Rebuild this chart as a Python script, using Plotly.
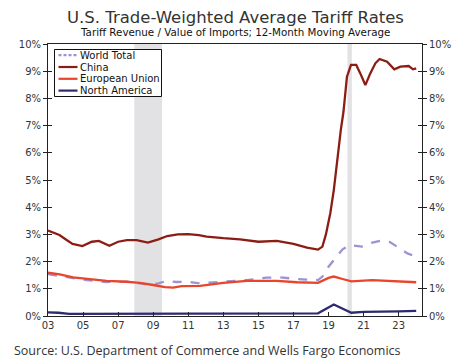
import plotly.graph_objects as go

# ---- data ----
china_x = [2003.0, 2003.65, 2004.0, 2004.4, 2004.96, 2005.5, 2005.9, 2006.24, 2006.5, 2007.0,
           2007.5, 2008.05, 2008.7, 2009.3, 2009.8, 2010.4, 2011.0, 2011.6, 2012.05, 2013.0,
           2013.95, 2015.0, 2016.05, 2017.0, 2017.77, 2018.4, 2018.65, 2018.85, 2019.1, 2019.3,
           2019.5, 2019.7, 2019.85, 2020.05, 2020.28, 2020.58, 2020.81, 2021.1, 2021.38, 2021.67,
           2021.91, 2022.34, 2022.75, 2023.1, 2023.57, 2023.82, 2024.0]
china_y = [3.14, 2.98, 2.82, 2.65, 2.57, 2.73, 2.76, 2.67, 2.58, 2.73,
           2.79, 2.79, 2.70, 2.82, 2.94, 3.00, 3.01, 2.97, 2.92, 2.86,
           2.82, 2.73, 2.76, 2.65, 2.51, 2.44, 2.55, 3.00, 3.78, 4.63,
           5.86, 6.84, 7.50, 8.80, 9.23, 9.23, 8.92, 8.49, 8.92, 9.29,
           9.45, 9.35, 9.07, 9.17, 9.19, 9.07, 9.10]

eu_x = [2003.0, 2003.67, 2004.43, 2005.2, 2006.34, 2007.48, 2008.24, 2009.0, 2009.67, 2010.14,
        2010.62, 2011.67, 2013.0, 2014.34, 2016.05, 2017.2, 2018.4, 2019.0, 2019.3, 2019.8,
        2020.3, 2021.48, 2022.85, 2024.0]
eu_y = [1.59, 1.53, 1.42, 1.36, 1.29, 1.26, 1.22, 1.14, 1.06, 1.04,
        1.10, 1.11, 1.22, 1.29, 1.29, 1.24, 1.22, 1.40, 1.45, 1.36,
        1.27, 1.32, 1.28, 1.24]

wt_x = [2003.0, 2004.43, 2005.2, 2006.34, 2007.48, 2008.24, 2008.81, 2009.29, 2009.77, 2010.34,
        2011.0, 2011.67, 2013.0, 2014.34, 2015.48, 2016.24, 2017.2, 2018.4, 2018.65, 2019.0,
        2019.38, 2019.8, 2020.24, 2020.9, 2021.5, 2021.95, 2022.5, 2023.0, 2023.5, 2024.0]
wt_y = [1.54, 1.39, 1.32, 1.25, 1.26, 1.20, 1.14, 1.20, 1.29, 1.25,
        1.26, 1.20, 1.26, 1.32, 1.41, 1.42, 1.36, 1.32, 1.45, 1.81,
        2.12, 2.45, 2.61, 2.55, 2.70, 2.76, 2.72, 2.50, 2.30, 2.18]

na_x = [2003.0, 2003.6, 2004.2, 2006.0, 2010.0, 2015.0, 2015.5, 2018.4, 2019.3, 2020.3,
        2021.0, 2022.0, 2023.0, 2024.0]
na_y = [0.13, 0.12, 0.08, 0.08, 0.08, 0.08, 0.10, 0.10, 0.42, 0.12,
        0.15, 0.15, 0.17, 0.19]

series_names = ["World Total", "China", "European Union", "North America"]
recessions = [(2007.92, 2009.5), (2020.08, 2020.33)]
tick_vals = [2003, 2005, 2007, 2009, 2011, 2013, 2015, 2017, 2019, 2021, 2023]
tick_text = ["03", "05", "07", "09", "11", "13", "15", "17", "19", "21", "23"]
y_vals = list(range(0, 11))
y_text = [f"{v}%" for v in y_vals]

FONT = "DejaVu Sans"
TXT = "#333333"
AX = "#222222"
W, H = 466, 363
ML, MR, MT, MB = 48, 44, 44, 47
PW, PH = W - ML - MR, H - MT - MB

colors = ["#9D92D2", "#8C1D14", "#E8452B", "#2E2A6E"]
dashes = ["dash", "solid", "solid", "solid"]
xs = [wt_x, china_x, eu_x, na_x]
ys = [wt_y, china_y, eu_y, na_y]

fig = go.Figure()
for name, x, y, c, d in zip(series_names, xs, ys, colors, dashes):
    fig.add_trace(go.Scatter(x=x, y=y, name=name, mode="lines", showlegend=False,
                             line=dict(color=c, width=2.3, dash=d)))
# axis carriers (invisible)
for ya in ["y2", "y3", "y4"]:
    fig.add_trace(go.Scatter(x=[None], y=[None], yaxis=ya, showlegend=False, hoverinfo="skip"))

for a, b in recessions:
    fig.add_shape(type="rect", xref="x", yref="y", x0=a, x1=b, y0=0, y1=10,
                  fillcolor="#E2E2E5", line=dict(width=0), layer="below")

def px(xp):
    return (xp - ML) / PW

def py(yp):
    return (H - MB - yp) / PH

# custom compact legend
fig.add_shape(type="rect", xref="paper", yref="paper", x0=px(54.5), x1=px(161.5),
              y0=py(96.5), y1=py(49.5), fillcolor="white", line=dict(color="#111111", width=1),
              layer="above")
row_y = [55.2, 67.0, 78.8, 90.6]
for name, c, d, ry in zip(series_names, colors, dashes, row_y):
    fig.add_shape(type="line", xref="paper", yref="paper", x0=px(58.5), x1=px(77.5),
                  y0=py(ry), y1=py(ry), line=dict(color=c, width=2.2,
                                                  dash=("3px,2px" if d == "dash" else "solid")),
                  layer="above")
    fig.add_annotation(text=name, xref="paper", yref="paper", x=px(78), y=py(ry),
                       xanchor="left", yanchor="middle", showarrow=False,
                       font=dict(family=FONT, size=10, color="#111111"))

axis_common = dict(showgrid=False, zeroline=False, showline=True, linecolor=AX,
                   linewidth=1, tickfont=dict(family=FONT, size=10, color=TXT), automargin=False)

fig.update_layout(
    width=W, height=H,
    margin=dict(l=ML, r=MR, t=MT, b=MB),
    paper_bgcolor="white", plot_bgcolor="white",
    font=dict(family=FONT, color=TXT),
    showlegend=False,
    xaxis=dict(range=[2003, 2024.33], tickvals=tick_vals, ticktext=tick_text,
               ticks="inside", ticklen=4, tickcolor=AX, mirror=True, **axis_common),
    yaxis=dict(range=[0, 10], tickvals=y_vals, ticktext=y_text, ticks="outside",
               ticklen=4, tickcolor=AX, **axis_common),
    yaxis2=dict(range=[0, 10], tickvals=y_vals, ticktext=y_text, ticks="outside",
                ticklen=4, tickcolor=AX, overlaying="y", side="right", **axis_common),
    yaxis3=dict(range=[0, 10], tickvals=y_vals, showticklabels=False, ticks="inside",
                ticklen=4, tickcolor=AX, overlaying="y", side="left", showgrid=False,
                zeroline=False, showline=False),
    yaxis4=dict(range=[0, 10], tickvals=y_vals, showticklabels=False, ticks="inside",
                ticklen=4, tickcolor=AX, overlaying="y", side="right", showgrid=False,
                zeroline=False, showline=False),
)

fig.add_annotation(text="U.S. Trade-Weighted Average Tariff Rates", xref="paper", yref="paper",
                   x=0.5, y=1, yshift=27, xanchor="center", yanchor="middle", showarrow=False,
                   font=dict(family=FONT, size=16.5, color=TXT))
fig.add_annotation(text="Tariff Revenue / Value of Imports; 12-Month Moving Average", xref="paper",
                   yref="paper", x=0.5, y=1, yshift=12, xanchor="center", yanchor="middle",
                   showarrow=False, font=dict(family=FONT, size=10.3, color="#111111"))
fig.add_annotation(text="Source: U.S. Department of Commerce and Wells Fargo Economics",
                   xref="paper", yref="paper", x=0, xshift=-36, y=0, yshift=-34,
                   xanchor="left", yanchor="middle", showarrow=False,
                   font=dict(family="Open Sans", size=12.5, color=TXT))

fig.write_html("out.html", config={"displayModeBar": False},
               post_script="document.body.style.margin='0';")
